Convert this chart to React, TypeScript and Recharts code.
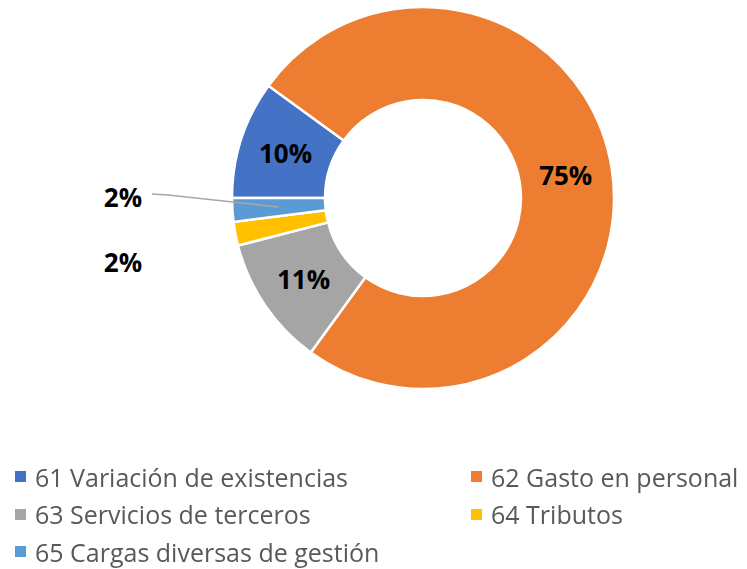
import { PieChart, Pie, Cell, Legend } from 'recharts';

const categories = [
  '61 Variación de existencias',
  '62 Gasto en personal',
  '63 Servicios de terceros',
  '64 Tributos',
  '65 Cargas diversas de gestión',
];
const shares = [10, 75, 11, 2, 2];
const colors = ['#4472C4', '#ED7D31', '#A5A5A5', '#FFC000', '#5B9BD5'];

const data = categories.map((name, i) => ({ name, value: shares[i] }));

const RAD = Math.PI / 180;
const labelFont = '"Open Sans", "Noto Sans", sans-serif';

const renderLabel = (props: any) => {
  const { cx, cy, midAngle, innerRadius, outerRadius, percent, index } = props;
  const text = `${Math.round(percent * 100)}%`;
  const r = (innerRadius + outerRadius) / 2;
  const mx = cx + r * Math.cos(-midAngle * RAD);
  const my = cy + r * Math.sin(-midAngle * RAD);

  if (percent >= 0.05) {
    return (
      <text x={mx} y={my} textAnchor="middle" dominantBaseline="central"
        fontFamily={labelFont} fontWeight={700} fontSize={26} fill="#000">
        {text}
      </text>
    );
  }

  // small slices: labels pushed out to the left like Excel does
  const lx = cx - 300;
  const ly = index === 4 ? cy - 1 : cy + 64;
  return (
    <g>
      {index === 4 && (
        <polyline
          points={`${lx + 29},${ly - 3} ${lx + 45},${ly - 2} ${mx},${my}`}
          fill="none" stroke="#A6A6A6" strokeWidth={1.5}
        />
      )}
      <text x={lx} y={ly} textAnchor="middle" dominantBaseline="central"
        fontFamily={labelFont} fontWeight={700} fontSize={26} fill="#000">
        {text}
      </text>
    </g>
  );
};

const renderLegend = () => (
  <div
    style={{
      display: 'grid',
      gridTemplateColumns: '456px 291px',
      fontFamily: labelFont,
      fontSize: 25,
      color: '#595959',
      overflow: 'visible',
    }}
  >
    {categories.map((name, i) => (
      <div key={name} style={{ display: 'flex', alignItems: 'center', height: 37.5, whiteSpace: 'nowrap', overflow: 'visible' }}>
        <span style={{ width: 11, height: 11, background: colors[i], marginLeft: 15, marginRight: 9, flexShrink: 0 }} />
        <span>{name}</span>
      </div>
    ))}
  </div>
);

export default function App() {
  return (
    <div style={{ position: 'fixed', top: 0, left: 0, width: 747, height: 569, background: '#fff' }}>
      <PieChart width={747} height={569} margin={{ top: 0, right: 0, bottom: 0, left: 0 }}>
        <Pie
          data={data}
          dataKey="value"
          nameKey="name"
          cx={423}
          cy={198}
          innerRadius={98}
          outerRadius={191}
          startAngle={180}
          endAngle={-180}
          stroke="#fff"
          strokeWidth={2.5}
          label={renderLabel}
          labelLine={false}
          isAnimationActive={false}
        >
          {data.map((d, i) => (
            <Cell key={d.name} fill={colors[i]} />
          ))}
        </Pie>
        <Legend
          content={renderLegend}
          wrapperStyle={{ position: 'absolute', left: 0, top: 458, width: 747 }}
        />
      </PieChart>
    </div>
  );
}
